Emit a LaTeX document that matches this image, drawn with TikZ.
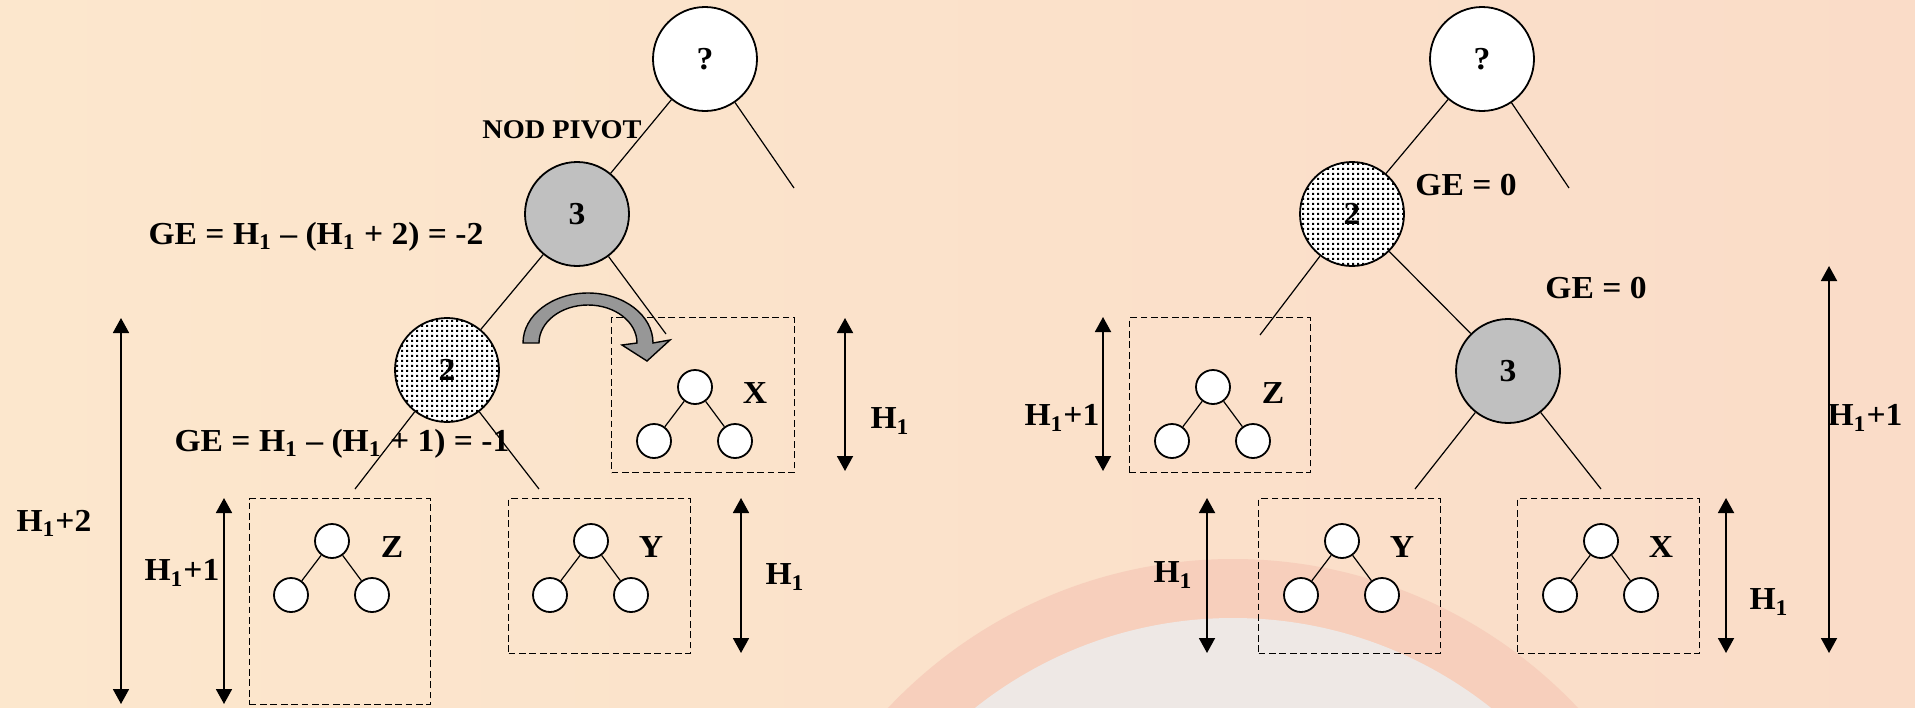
\documentclass[tikz,border=0pt]{standalone}
\usepackage{fontspec}
\setmainfont{Liberation Serif}[FakeStretch=1.05]
\usetikzlibrary{arrows.meta,patterns}

\definecolor{bgleft}{HTML}{FCE7CD}
\definecolor{bgright}{HTML}{FADCC8}
\definecolor{ringpink}{HTML}{F7CFBC}
\definecolor{ringgray}{HTML}{EEE8E5}
\definecolor{pivotgray}{HTML}{C0C0C0}
\definecolor{turngray}{HTML}{979797}

\pgfdeclarepatternformonly{squaredots}{\pgfqpoint{0pt}{0pt}}{\pgfqpoint{2.3pt}{2.3pt}}{\pgfqpoint{2.3pt}{2.3pt}}{%
  \pgfpathrectangle{\pgfpointorigin}{\pgfqpoint{1.2pt}{1.2pt}}\pgfusepath{fill}}

\tikzset{
  bignode/.style={circle,draw,line width=0.9pt,minimum size=52pt,inner sep=0pt,font=\bfseries\fontsize{16}{19}\selectfont},
  qnode/.style={bignode,fill=white},
  pivotnode/.style={bignode,fill=pivotgray},
  dotnode/.style={bignode,preaction={fill=white},pattern=squaredots},
  leaf/.style={circle,draw,line width=0.9pt,fill=white,minimum size=17pt,inner sep=0pt},
  subtree/.style={draw,dash pattern=on 3.4pt off 1.8pt,line width=0.6pt,anchor=north west,inner sep=0pt},
  lbl/.style={font=\bfseries\fontsize{16}{19}\selectfont,inner sep=0pt},
  dimarrow/.style={{Triangle[width=8pt,length=7.5pt]}-{Triangle[width=8pt,length=7.5pt]},line width=0.9pt},
  branch/.style={line width=0.6pt},
}

\begin{document}
\begin{tikzpicture}[x=0.5pt,y=-0.5pt]
    % background
    \useasboundingbox (0,0) rectangle (1915,707);
    \shade[left color=bgleft,right color=bgright] (0,0) rectangle (1915,707);
    \begin{scope}
        \clip (0,0) rectangle (1915,707);
        \fill[ringpink] (1233,1033) circle (474);
        \fill[ringgray] (1233,1033) circle (415);
    \end{scope}

    % left tree, before the rotation
    \node[qnode] (q1) at (705,59) {?};
    \node[pivotnode] (p3) at (577,214) {3};
    \node[dotnode] (p2) at (447,370) {2};
    \coordinate (q1r) at (794,188);
    \coordinate (p3r) at (666,334);
    \coordinate (p2l) at (355,489);
    \coordinate (p2r) at (539,489);
    \draw[branch] (q1) -- (q1r);
    \draw[branch] (q1) -- (p3);
    \draw[branch] (p3) -- (p2);
    \draw[branch] (p3) -- (p3r);
    \draw[branch] (p2) -- (p2l);
    \draw[branch] (p2) -- (p2r);
    \node[subtree,minimum width=91.5pt,minimum height=77.5pt] (lx) at (611,317) {};
    \node[subtree,minimum width=90.5pt,minimum height=103pt] (lz) at (249,498) {};
    \node[subtree,minimum width=91pt,minimum height=77.5pt] (ly) at (508,498) {};
    \node[lbl,font=\bfseries\fontsize{13.5}{16}\selectfont] (pivot) at (562,130) {NOD PIVOT};
    \node[lbl] (ge3) at (316,237) {GE = H\textsubscript{1} – (H\textsubscript{1} + 2) = -2};
    \node[lbl] (ge2) at (342,444) {GE = H\textsubscript{1} – (H\textsubscript{1} + 1) = -1};
    % rotation arrow
    \draw[line width=0.7pt,fill=turngray] (523,343) arc[start angle=180,end angle=360,x radius=65,y radius=50]
        -- (670,340) -- (647,361) -- (622,345) -- (637,343)
        arc[start angle=360,end angle=180,x radius=49,y radius=38] -- cycle;

    % right tree, after the rotation
    \node[qnode] (q2) at (1482,59) {?};
    \node[dotnode] (r2) at (1352,214) {2};
    \node[pivotnode] (r3) at (1508,371) {3};
    \coordinate (q2r) at (1569,188);
    \coordinate (r2l) at (1260,335);
    \coordinate (r3l) at (1415,489);
    \coordinate (r3r) at (1601,489);
    \draw[branch] (q2) -- (q2r);
    \draw[branch] (q2) -- (r2);
    \draw[branch] (r2) -- (r2l);
    \draw[branch] (r2) -- (r3);
    \draw[branch] (r3) -- (r3l);
    \draw[branch] (r3) -- (r3r);
    \node[subtree,minimum width=90.5pt,minimum height=77.5pt] (rz) at (1129,317) {};
    \node[subtree,minimum width=91pt,minimum height=77.5pt] (ry) at (1258,498) {};
    \node[subtree,minimum width=91pt,minimum height=77.5pt] (rx) at (1517,498) {};
    \node[lbl] (ge2r) at (1466,185) {GE = 0};
    \node[lbl] (ge3r) at (1596,288) {GE = 0};

    % small trees in the boxes
    \foreach \n/\x/\y/\t in {lx/695/387/X,lz/332/541/Z,ly/591/541/Y,rz/1213/387/Z,ry/1342/541/Y,rx/1601/541/X}{
        \node[leaf] (\n-t) at (\x,\y) {};
        \node[leaf] (\n-l) at (\x-41,\y+54) {};
        \node[leaf] (\n-r) at (\x+40,\y+54) {};
        \draw[branch] (\n-t) -- (\n-l);
        \draw[branch] (\n-t) -- (\n-r);
        \node[lbl] (\n-name) at (\x+60,\y+6) {\t};
    }

    % heights
    \coordinate (d1t) at (121,318);  \coordinate (d1b) at (121,704);
    \coordinate (d2t) at (224,498);  \coordinate (d2b) at (224,704);
    \coordinate (d3t) at (845,318);  \coordinate (d3b) at (845,471);
    \coordinate (d4t) at (741,498);  \coordinate (d4b) at (741,653);
    \coordinate (d5t) at (1103,317); \coordinate (d5b) at (1103,471);
    \coordinate (d6t) at (1207,498); \coordinate (d6b) at (1207,653);
    \coordinate (d7t) at (1726,498); \coordinate (d7b) at (1726,653);
    \coordinate (d8t) at (1829,266); \coordinate (d8b) at (1829,653);
    \foreach \d in {1,...,8}{
        \draw[dimarrow] (d\d t) -- (d\d b);
    }
    \node[lbl] (h2l) at (54,523) {H\textsubscript{1}+2};
    \node[lbl] (h1z) at (182,573) {H\textsubscript{1}+1};
    \node[lbl] (h0x) at (890,421) {H\textsubscript{1}};
    \node[lbl] (h0y) at (785,577) {H\textsubscript{1}};
    \node[lbl] (h1zr) at (1062,418) {H\textsubscript{1}+1};
    \node[lbl] (h0yr) at (1173,575) {H\textsubscript{1}};
    \node[lbl] (h0xr) at (1769,602) {H\textsubscript{1}};
    \node[lbl] (h1r) at (1865,418) {H\textsubscript{1}+1};
\end{tikzpicture}
\end{document}
